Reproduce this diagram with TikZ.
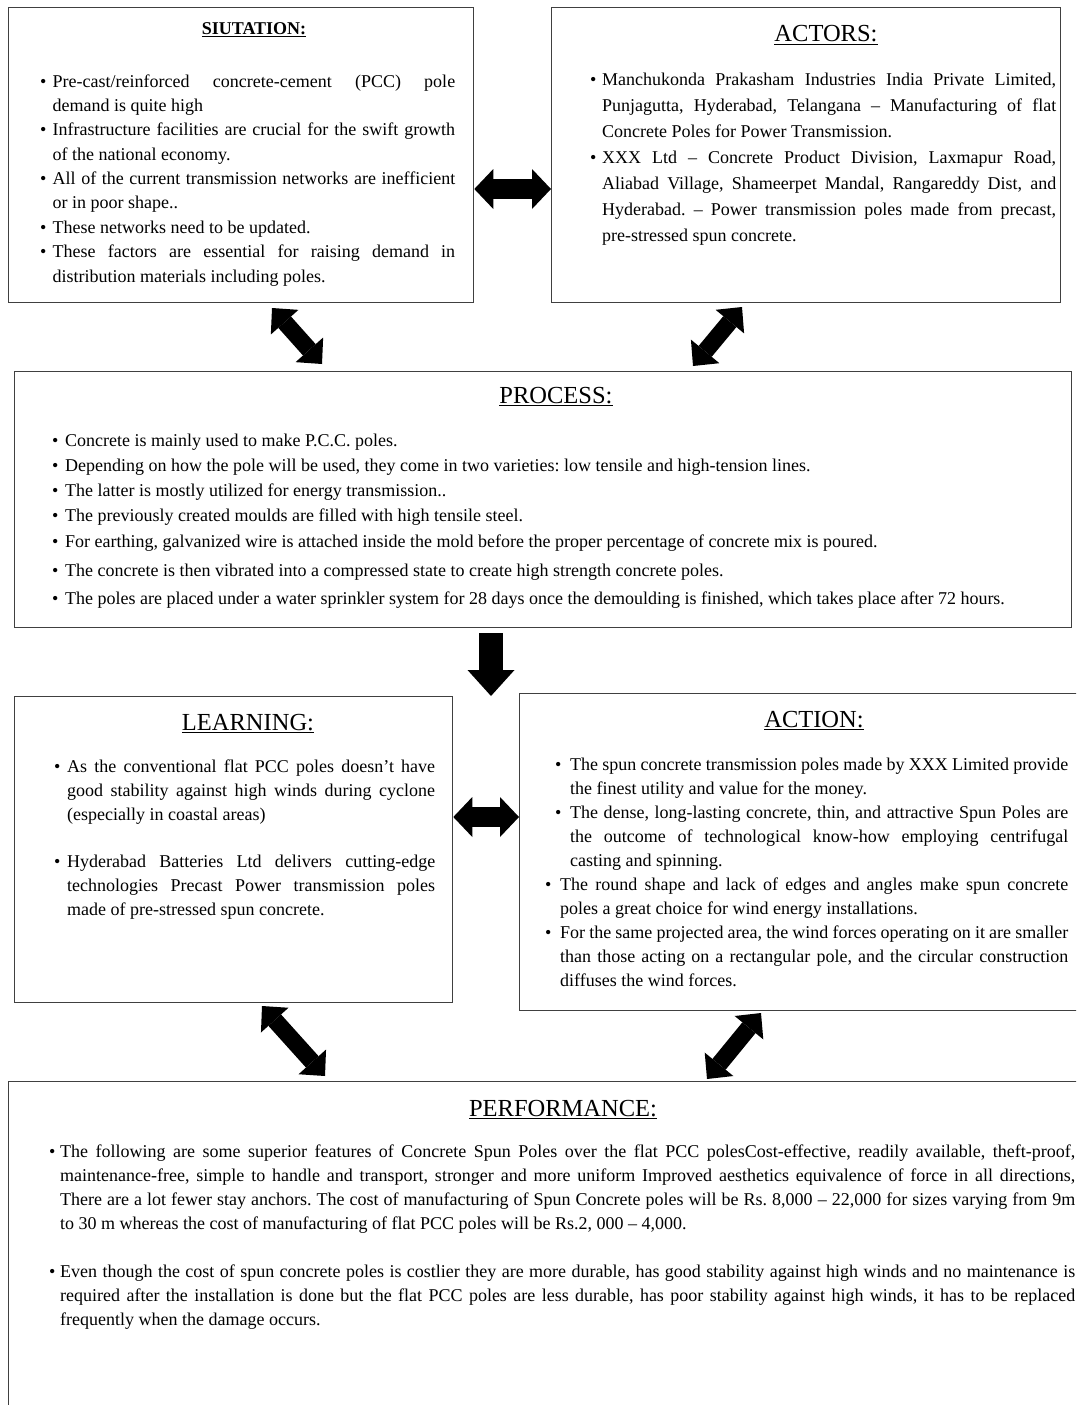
\documentclass[tikz,border=0pt]{standalone}
\usepackage{fontspec}
\setmainfont{Liberation Serif}
\usetikzlibrary{arrows.meta}

% A block of bulleted text: #1 width, #2 font size, #3 line spacing, #4 bullet hang, #5 items
\newcommand\textblock[5]{%
  \parbox[t]{#1pt}{%
    \fontsize{#2pt}{#3pt}\selectfont\frenchspacing
    \setlength\parindent{0pt}%
    \hyphenpenalty=10000 \exhyphenpenalty=10000
    \tolerance=10000 \emergencystretch=0pt
    \def\itm{\par\hangindent=#4pt\hangafter=1\noindent\makebox[#4pt][l]{\textbullet}}%
    #5\par}}

\tikzset{
  x=1pt, y=-1pt,
  boxframe/.style={draw=black!75, line width=1.3pt, rectangle, inner sep=0pt,
    anchor=north west},
  heading/.style={anchor=base, inner sep=0pt, font=\fontsize{24.5pt}{28pt}\selectfont},
  bodytext/.style={anchor=base west, inner sep=0pt},
  wideboth/.style={line width=20pt,
    {Triangle[length=19pt,width=40pt,line width=0pt]}-{Triangle[length=19pt,width=40pt,line width=0pt]}},
  slantboth/.style={line width=17pt,
    {Triangle[length=19pt,width=37pt,line width=0pt]}-{Triangle[length=19pt,width=37pt,line width=0pt]}},
  widedown/.style={line width=24pt, -{Triangle[length=26pt,width=47pt,line width=0pt]}},
}

\begin{document}
\begin{tikzpicture}
\useasboundingbox (0,0) rectangle (1076,1405);
\fill[white] (0,0) rectangle (1076,1405);
\clip (0,0) rectangle (1076,1405);

% ---------- frames ----------
\node[boxframe, minimum width=465pt, minimum height=295pt] (sit) at (8,7) {};
\node[boxframe, minimum width=509pt, minimum height=295pt] (act) at (551,7) {};
\node[boxframe, minimum width=1057pt, minimum height=256pt] (proc) at (14,371) {};
\node[boxframe, minimum width=438pt, minimum height=306pt] (learn) at (14,696) {};
\node[boxframe, minimum width=560pt, minimum height=317pt] (action) at (519,693) {};
\node[boxframe, minimum width=1090pt, minimum height=340pt] (perf) at (8,1081) {};

% ---------- headings ----------
\node[heading, font=\fontsize{18pt}{20pt}\selectfont\bfseries] (sith) at (254,35) {\underline{SIUTATION:}};
\node[heading] (acth) at (826,42) {\underline{ACTORS:}};
\node[heading] (proch) at (556,403) {\underline{PROCESS:}};
\node[heading] (learnh) at (248,730) {\underline{LEARNING:}};
\node[heading] (actionh) at (814,727) {\underline{ACTION:}};
\node[heading] (perfh) at (563,1116) {\underline{PERFORMANCE:}};

% ---------- texts ----------
\node[bodytext] (sitt) at (40,87) {\textblock{415}{18}{24.4}{12.5}{%
\itm Pre-cast/reinforced concrete-cement (PCC) pole\linebreak demand is quite high
\itm Infrastructure facilities are crucial for the swift growth\linebreak of the national economy.
\itm All of the current transmission networks are inefficient\linebreak or in poor shape..
\itm These networks need to be updated.
\itm These factors are essential for raising demand in\linebreak distribution materials including poles.}};

\node[bodytext] (actt) at (590,85) {\textblock{466}{18}{26}{12}{%
\itm Manchukonda Prakasham Industries India Private Limited,\linebreak Punjagutta, Hyderabad, Telangana – Manufacturing of flat\linebreak Concrete Poles for Power Transmission.
\itm XXX Ltd – Concrete Product Division, Laxmapur Road,\linebreak Aliabad Village, Shameerpet Mandal, Rangareddy Dist, and\linebreak Hyderabad. – Power transmission poles made from precast,\linebreak pre-stressed spun concrete.}};

\node[bodytext] (proct) at (52,446) {\textblock{1010}{18}{25.3}{13}{%
\itm Concrete is mainly used to make P.C.C. poles.
\itm Depending on how the pole will be used, they come in two varieties: low tensile and high-tension lines.
\itm The latter is mostly utilized for energy transmission..
\itm The previously created moulds are filled with high tensile steel.
\itm For earthing, galvanized wire is attached inside the mold before the proper percentage of concrete mix is poured.
\par\vspace{3.5pt}\itm The concrete is then vibrated into a compressed state to create high strength concrete poles.
\par\vspace{3pt}\itm The poles are placed under a water sprinkler system for 28 days once the demoulding is finished, which takes place after 72 hours.}};

\node[bodytext] (learnt) at (54,772) {\textblock{381}{18}{24}{13}{%
\itm As the conventional flat PCC poles doesn’t have\linebreak good stability against high winds during cyclone\linebreak (especially in coastal areas)
\par\vspace{23pt}\itm Hyderabad Batteries Ltd delivers cutting-edge\linebreak technologies Precast Power transmission poles\linebreak made of pre-stressed spun concrete.}};

\node[bodytext] (actiont) at (545,770) {\textblock{523}{18}{24}{15}{%
\leftskip=10pt
\itm The spun concrete transmission poles made by XXX Limited provide\linebreak the finest utility and value for the money.
\itm The dense, long-lasting concrete, thin, and attractive Spun Poles are\linebreak the outcome of technological know-how employing centrifugal\linebreak casting and spinning.
\par\leftskip=0pt
\itm The round shape and lack of edges and angles make spun concrete\linebreak poles a great choice for wind energy installations.
\itm For the same projected area, the wind forces operating on it are smaller\linebreak than those acting on a rectangular pole, and the circular construction\linebreak diffuses the wind forces.}};

\node[bodytext] (perft) at (49,1157) {\textblock{1026}{18}{24}{11}{%
\itm The following are some superior features of Concrete Spun Poles over the flat PCC polesCost-effective, readily available, theft-proof,\linebreak maintenance-free, simple to handle and transport, stronger and more uniform Improved aesthetics equivalence of force in all directions,\linebreak There are a lot fewer stay anchors. The cost of manufacturing of Spun Concrete poles will be Rs. 8,000 – 22,000 for sizes varying from 9m\linebreak to 30 m whereas the cost of manufacturing of flat PCC poles will be Rs.2, 000 – 4,000.
\par\vspace{24pt}\itm Even though the cost of spun concrete poles is costlier they are more durable, has good stability against high winds and no maintenance is\linebreak required after the installation is done but the flat PCC poles are less durable, has poor stability against high winds, it has to be replaced\linebreak frequently when the damage occurs.}};

% ---------- block arrows ----------
\draw[wideboth] (sit.east |- 0,189) -- (act.west |- 0,189);
\draw[wideboth] (learn.east |- 0,817) -- (action.west |- 0,817);
\draw[widedown] (proc.south -| 491,0) ++(0,5) coordinate (dtop) -- (learn.north -| 491,0) coordinate (dtip);

\coordinate (sp1) at (272,308);  \coordinate (sp2) at (322,364);
\coordinate (ap1) at (742,307);  \coordinate (ap2) at (693,366);
\coordinate (lp1) at (262,1006); \coordinate (lp2) at (325,1076);
\coordinate (xp1) at (761,1013); \coordinate (xp2) at (707,1079);
\draw[slantboth] (sp1) -- (sp2);
\draw[slantboth] (ap1) -- (ap2);
\draw[slantboth] (lp1) -- (lp2);
\draw[slantboth] (xp1) -- (xp2);
\end{tikzpicture}
\end{document}
